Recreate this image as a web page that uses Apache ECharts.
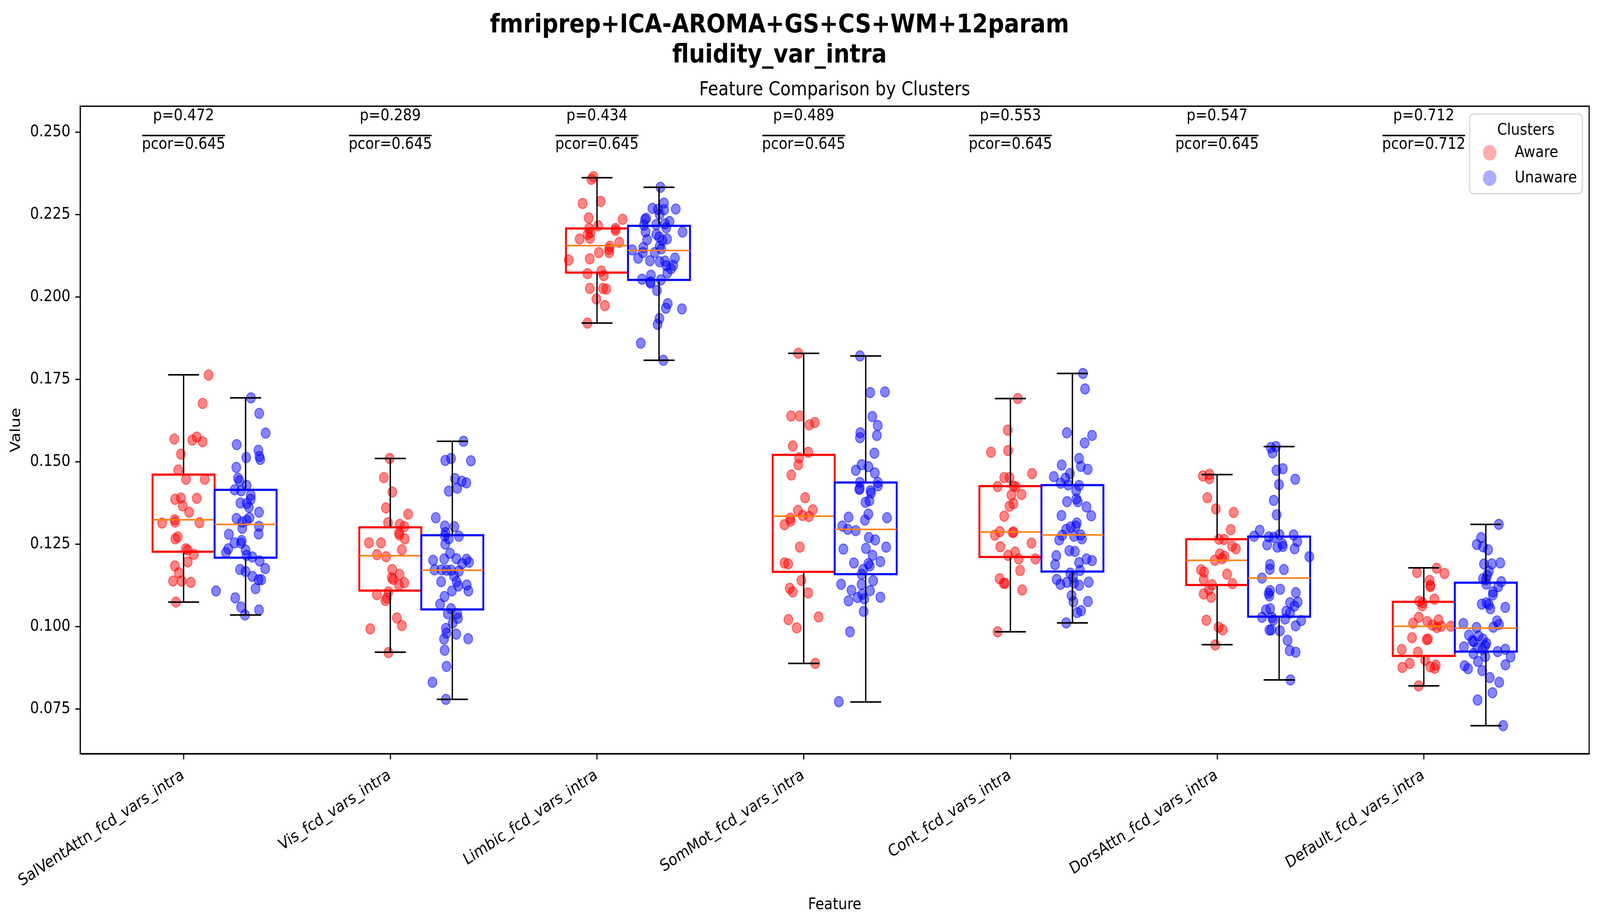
<!DOCTYPE html>
<html>
<head>
<meta charset="utf-8">
<script src="https://cdn.jsdelivr.net/npm/echarts@6/dist/echarts.min.js"></script>
<style>
  html, body { margin: 0; padding: 0; background: #fff; overflow: hidden; }
  #main { width: 4727px; height: 2366px; transform-origin: 0 0; }
</style>
</head>
<body>
<div id="main"></div>
<script>
// categories and annotations
var features = ['SalVentAttn_fcd_vars_intra', 'Vis_fcd_vars_intra', 'Limbic_fcd_vars_intra',
    'SomMot_fcd_vars_intra', 'Cont_fcd_vars_intra', 'DorsAttn_fcd_vars_intra', 'Default_fcd_vars_intra'];
var pValues = ['0.472', '0.289', '0.434', '0.489', '0.553', '0.547', '0.712'];
var pcorValues = ['0.645', '0.645', '0.645', '0.645', '0.645', '0.645', '0.712'];
var yTicks = [0.075, 0.100, 0.125, 0.150, 0.175, 0.200, 0.225, 0.250];

// box stats: [lower whisker, q1, median, q3, upper whisker]
var awareBox = [
    [0.1074, 0.1227, 0.1324, 0.1461, 0.1764],
    [0.0922, 0.1109, 0.1215, 0.1301, 0.1510],
    [0.1921, 0.2074, 0.2156, 0.2208, 0.2362],
    [0.0888, 0.1166, 0.1335, 0.1521, 0.1829],
    [0.0984, 0.1211, 0.1287, 0.1426, 0.1692],
    [0.0945, 0.1126, 0.1201, 0.1265, 0.1461],
    [0.0820, 0.0911, 0.1001, 0.1075, 0.1178]
];
var unawareBox = [
    [0.1035, 0.1209, 0.1310, 0.1415, 0.1694],
    [0.0779, 0.1052, 0.1171, 0.1277, 0.1562],
    [0.1808, 0.2052, 0.2141, 0.2216, 0.2333],
    [0.0771, 0.1159, 0.1295, 0.1437, 0.1821],
    [0.1011, 0.1167, 0.1278, 0.1429, 0.1768],
    [0.0838, 0.1030, 0.1147, 0.1273, 0.1546],
    [0.0699, 0.0924, 0.0995, 0.1133, 0.1310]
];

// subject values, one list per feature
var awareValues = [
    [0.1763,0.1677,0.1569,0.1566,0.1575,0.1561,0.1523,0.1475,0.1447,0.1447,0.1386,0.1390,0.1389,0.1366,0.1347,0.1324,0.1314,0.1317,0.1315,0.1266,0.1272,0.1236,0.1232,0.1219,0.1196,0.1184,0.1163,0.1138,0.1138,0.1134,0.1074],
    [0.1510,0.1452,0.1408,0.1360,0.1341,0.1315,0.1310,0.1303,0.1284,0.1278,0.1266,0.1254,0.1254,0.1233,0.1218,0.1212,0.1173,0.1158,0.1148,0.1143,0.1133,0.1126,0.1105,0.1097,0.1087,0.1079,0.1026,0.1003,0.0993,0.0921],
    [0.2365,0.2357,0.2284,0.2290,0.2240,0.2236,0.2216,0.2208,0.2208,0.2202,0.2196,0.2190,0.2178,0.2176,0.2166,0.2154,0.2145,0.2135,0.2135,0.2112,0.2116,0.2079,0.2071,0.2065,0.2026,0.2026,0.2024,0.1994,0.1974,0.1921],
    [0.1829,0.1639,0.1639,0.1612,0.1619,0.1548,0.1529,0.1512,0.1491,0.1460,0.1391,0.1352,0.1354,0.1337,0.1334,0.1329,0.1320,0.1309,0.1241,0.1193,0.1190,0.1140,0.1116,0.1105,0.1102,0.1021,0.1029,0.0996,0.0888],
    [0.1692,0.1596,0.1529,0.1534,0.1464,0.1452,0.1452,0.1425,0.1426,0.1424,0.1399,0.1401,0.1373,0.1365,0.1335,0.1288,0.1277,0.1285,0.1287,0.1253,0.1242,0.1226,0.1216,0.1205,0.1205,0.1170,0.1145,0.1131,0.1131,0.1111,0.0984],
    [0.1457,0.1462,0.1449,0.1391,0.1357,0.1346,0.1294,0.1265,0.1264,0.1244,0.1236,0.1220,0.1213,0.1201,0.1206,0.1172,0.1165,0.1159,0.1143,0.1127,0.1130,0.1112,0.1099,0.1089,0.1019,0.0998,0.0990,0.0944],
    [0.1177,0.1164,0.1161,0.1140,0.1125,0.1121,0.1083,0.1077,0.1072,0.1063,0.1028,0.1015,0.1010,0.1020,0.1004,0.0997,0.1001,0.1001,0.0966,0.0960,0.0962,0.0930,0.0922,0.0898,0.0888,0.0876,0.0878,0.0883,0.0873,0.0820]
];
// horizontal jitter of each point, in category units
var awareJitter = [
    [0.121,0.092,-0.045,0.042,0.064,0.092,-0.013,-0.026,0.012,0.102,-0.041,-0.013,0.064,-0.004,0.027,-0.043,-0.104,-0.041,0.077,-0.040,-0.028,0.011,0.020,0.050,0.020,-0.042,-0.023,-0.051,-0.009,0.035,-0.037],
    [-0.003,-0.031,0.010,-0.021,0.086,-0.011,0.046,0.068,0.042,0.044,0.070,-0.103,-0.045,0.056,-0.064,-0.020,0.009,0.045,0.007,0.014,0.068,0.042,-0.009,-0.065,-0.017,-0.024,0.032,0.056,-0.097,-0.009],
    [-0.017,-0.027,-0.070,0.018,-0.040,0.124,0.006,-0.038,0.090,0.090,-0.031,-0.045,-0.034,-0.084,0.108,0.062,0.058,0.059,0.009,-0.137,-0.035,0.021,-0.046,0.033,-0.035,0.029,0.045,-0.003,0.038,-0.046],
    [-0.026,-0.061,-0.019,0.027,0.054,-0.053,0.022,-0.022,-0.026,-0.060,0.007,-0.028,0.044,-0.005,0.025,-0.065,-0.063,-0.093,-0.019,-0.093,-0.075,-0.011,-0.068,-0.053,0.022,-0.074,0.072,-0.034,0.056],
    [0.036,-0.013,-0.094,-0.011,0.105,-0.030,-0.004,-0.062,0.015,0.026,0.005,0.054,0.015,-0.004,-0.030,-0.051,-0.075,0.011,0.015,0.102,-0.049,0.023,-0.011,0.040,0.121,0.047,-0.052,-0.032,-0.026,0.057,-0.062],
    [-0.069,-0.037,-0.037,-0.047,-0.006,0.080,0.066,0.009,0.034,0.072,0.091,0.013,0.036,-0.011,0.024,-0.078,-0.063,0.048,-0.065,-0.025,0.074,-0.039,-0.065,-0.029,-0.052,0.007,0.027,-0.009],
    [0.062,-0.033,0.100,0.028,0.032,0.031,0.051,-0.022,-0.006,-0.008,-0.024,0.017,-0.052,0.071,0.042,0.063,0.085,0.131,-0.057,0.014,0.020,-0.107,-0.029,0.006,-0.068,-0.104,0.031,0.058,0.052,-0.025]
];
var unawareValues = [
    [0.1694,0.1647,0.1587,0.1552,0.1535,0.1516,0.1507,0.1513,0.1483,0.1450,0.1442,0.1428,0.1415,0.1412,0.1399,0.1386,0.1375,0.1373,0.1362,0.1347,0.1328,0.1330,0.1317,0.1322,0.1304,0.1298,0.1281,0.1280,0.1254,0.1261,0.1253,0.1236,0.1224,0.1232,0.1216,0.1211,0.1199,0.1176,0.1173,0.1167,0.1152,0.1142,0.1142,0.1115,0.1108,0.1087,0.1059,0.1050,0.1035],
    [0.1562,0.1504,0.1510,0.1503,0.1449,0.1441,0.1436,0.1420,0.1411,0.1330,0.1305,0.1303,0.1285,0.1275,0.1266,0.1274,0.1250,0.1222,0.1201,0.1205,0.1206,0.1204,0.1195,0.1191,0.1172,0.1172,0.1171,0.1171,0.1168,0.1154,0.1136,0.1136,0.1123,0.1126,0.1108,0.1108,0.1091,0.1068,0.1054,0.1039,0.1039,0.1025,0.1011,0.0994,0.0980,0.0977,0.0963,0.0962,0.0928,0.0879,0.0831,0.0779],
    [0.2333,0.2285,0.2269,0.2266,0.2265,0.2267,0.2251,0.2239,0.2235,0.2229,0.2218,0.2220,0.2222,0.2210,0.2197,0.2198,0.2190,0.2182,0.2176,0.2174,0.2172,0.2150,0.2154,0.2146,0.2143,0.2135,0.2135,0.2118,0.2110,0.2107,0.2109,0.2118,0.2095,0.2096,0.2086,0.2073,0.2066,0.2054,0.2046,0.2042,0.2052,0.2020,0.1980,0.1966,0.1964,0.1935,0.1917,0.1860,0.1808],
    [0.1821,0.1710,0.1712,0.1637,0.1610,0.1588,0.1573,0.1580,0.1526,0.1491,0.1485,0.1474,0.1466,0.1437,0.1437,0.1427,0.1419,0.1416,0.1412,0.1405,0.1382,0.1377,0.1341,0.1332,0.1330,0.1323,0.1305,0.1295,0.1291,0.1270,0.1263,0.1235,0.1237,0.1241,0.1216,0.1193,0.1197,0.1191,0.1184,0.1173,0.1159,0.1128,0.1128,0.1139,0.1110,0.1109,0.1098,0.1088,0.1084,0.1078,0.1089,0.1046,0.0984,0.0772],
    [0.1768,0.1721,0.1588,0.1580,0.1557,0.1510,0.1486,0.1490,0.1477,0.1455,0.1464,0.1450,0.1435,0.1430,0.1428,0.1412,0.1387,0.1379,0.1379,0.1363,0.1337,0.1336,0.1314,0.1302,0.1295,0.1277,0.1305,0.1278,0.1274,0.1263,0.1266,0.1230,0.1228,0.1215,0.1205,0.1194,0.1200,0.1188,0.1170,0.1162,0.1149,0.1143,0.1128,0.1134,0.1132,0.1125,0.1135,0.1094,0.1075,0.1076,0.1048,0.1042,0.1011],
    [0.1543,0.1546,0.1527,0.1474,0.1479,0.1447,0.1431,0.1383,0.1339,0.1292,0.1274,0.1272,0.1271,0.1279,0.1278,0.1248,0.1241,0.1251,0.1243,0.1258,0.1236,0.1212,0.1188,0.1174,0.1173,0.1147,0.1109,0.1113,0.1101,0.1093,0.1103,0.1072,0.1074,0.1062,0.1050,0.1054,0.1046,0.1041,0.1028,0.1027,0.1020,0.1023,0.1018,0.1002,0.0989,0.0990,0.0987,0.0958,0.0927,0.0922,0.0838],
    [0.1310,0.1270,0.1249,0.1242,0.1233,0.1190,0.1190,0.1193,0.1168,0.1155,0.1145,0.1142,0.1136,0.1129,0.1121,0.1105,0.1096,0.1068,0.1072,0.1067,0.1054,0.1058,0.1009,0.1017,0.1006,0.0998,0.0997,0.0974,0.0971,0.0957,0.0962,0.0949,0.0954,0.0938,0.0935,0.0942,0.0931,0.0918,0.0924,0.0931,0.0908,0.0909,0.0894,0.0881,0.0872,0.0884,0.0866,0.0845,0.0831,0.0799,0.0777,0.0699]
];
var unawareJitter = [
    [0.026,0.066,0.097,-0.043,0.062,0.067,0.071,0.003,-0.045,-0.037,-0.030,0.005,-0.053,-0.022,0.025,0.025,-0.025,0.005,0.016,0.065,-0.044,0.019,-0.016,0.005,0.065,-0.016,0.063,-0.081,-0.054,-0.019,-0.022,-0.084,-0.095,0.000,0.005,0.033,0.068,0.095,-0.027,0.000,0.033,0.063,0.076,0.048,-0.143,-0.050,-0.022,0.065,-0.003],
    [0.054,-0.034,-0.006,0.090,0.013,0.046,0.068,0.024,-0.017,-0.080,-0.036,0.010,-0.033,-0.036,-0.017,0.032,-0.034,-0.011,-0.093,-0.039,0.020,0.069,0.081,0.048,-0.086,-0.052,-0.028,-0.006,0.032,0.008,-0.054,0.021,0.029,0.070,0.078,-0.002,-0.038,-0.059,-0.006,-0.022,0.024,0.027,0.002,-0.031,-0.028,0.019,0.077,-0.040,-0.037,-0.028,-0.096,-0.031],
    [0.007,0.024,-0.032,-0.005,0.025,0.081,0.003,-0.062,-0.068,0.051,-0.073,-0.013,0.029,0.035,0.114,-0.065,-0.013,0.001,0.039,-0.058,0.017,-0.076,0.003,0.011,-0.130,-0.078,-0.021,-0.101,-0.044,0.003,0.029,0.077,0.036,0.069,0.058,0.040,-0.039,-0.082,-0.041,-0.041,0.009,-0.010,0.042,0.033,0.111,0.002,-0.007,-0.088,0.021],
    [-0.028,0.022,0.093,0.032,0.058,-0.026,-0.028,0.054,0.042,-0.020,0.013,-0.048,0.044,-0.028,0.059,0.059,-0.029,-0.031,0.023,0.026,0.018,-0.001,0.013,-0.083,0.103,-0.004,-0.113,-0.087,-0.048,0.015,0.046,-0.108,0.001,0.099,0.033,-0.057,0.071,0.013,0.020,-0.012,-0.020,-0.119,-0.020,0.036,-0.069,0.021,-0.017,-0.039,-0.007,-0.083,0.071,-0.010,-0.076,-0.130],
    [0.051,0.061,-0.027,0.095,0.059,0.032,0.041,-0.052,0.074,-0.090,-0.012,-0.034,-0.057,-0.020,0.032,0.018,0.019,0.026,-0.026,0.068,-0.053,0.091,0.021,-0.008,-0.030,-0.049,0.016,0.040,0.008,-0.064,0.046,-0.015,0.012,-0.078,0.068,0.032,0.095,-0.084,0.037,-0.011,0.003,-0.076,-0.058,-0.027,0.008,0.033,0.079,-0.004,0.005,0.075,0.042,0.023,-0.030],
    [-0.040,-0.015,-0.032,-0.013,0.018,0.078,-0.001,-0.026,-0.012,-0.094,-0.121,-0.050,-0.026,0.002,0.070,-0.058,-0.009,0.015,0.018,0.088,0.075,0.146,-0.044,-0.045,0.023,-0.083,-0.044,0.005,-0.051,-0.047,0.081,0.053,0.090,0.074,-0.064,-0.043,0.034,0.053,-0.083,-0.034,-0.028,0.029,0.107,0.080,-0.047,-0.038,0.004,0.041,0.051,0.080,0.055],
    [0.063,-0.023,-0.044,-0.014,0.011,-0.009,0.029,0.070,0.015,0.007,-0.014,0.000,0.075,0.002,0.060,0.035,0.034,-0.020,0.003,0.014,0.022,0.094,-0.109,0.054,0.064,0.036,-0.045,-0.082,-0.036,-0.065,-0.014,0.003,-0.058,-0.106,-0.041,-0.003,-0.016,-0.060,0.057,0.094,0.120,-0.003,-0.038,-0.103,-0.086,0.095,-0.017,0.019,0.065,0.032,-0.040,0.084]
];

// the page is laid out at 4727 x 2366; if the window is another size, fit it
var el = document.getElementById('main');
var sx = (window.innerWidth || 4727) / 4727;
var sy = (window.innerHeight || 2366) / 2366;
if (Math.abs(sx - 1) > 0.001 || Math.abs(sy - 1) > 0.001) {
    el.style.transform = 'scale(' + sx + ',' + sy + ')';
}

var FONT = '"DejaVu Sans", "Liberation Sans", sans-serif';
var FS = 41.7;            // 10pt at 300dpi
var offsetUnaware = 0.3;  // second box sits 0.3 to the right
var yBottom = 0.0614, yTop = 0.2579;

function points(values, jitter, shift) {
    var out = [];
    for (var i = 0; i < values.length; i++) {
        for (var n = 0; n < values[i].length; n++) {
            out.push([i + shift + jitter[i][n], values[i][n]]);
        }
    }
    return out;
}
function boxes(stats, shift) {
    return stats.map(function (s, i) { return [i + shift].concat(s); });
}

function boxRenderer(color) {
    return function (params, api) {
        var x = api.value(0);
        var half = api.size([0.15, 0])[0];
        var cap = api.size([0.075, 0])[0];
        var pMin = api.coord([x, api.value(1)]);
        var pQ1 = api.coord([x, api.value(2)]);
        var pMed = api.coord([x, api.value(3)]);
        var pQ3 = api.coord([x, api.value(4)]);
        var pMax = api.coord([x, api.value(5)]);
        var cx = pMed[0];
        var black = { stroke: '#000', lineWidth: 4 };
        return {
            type: 'group',
            children: [
                { type: 'line', shape: { x1: cx, y1: pQ1[1], x2: cx, y2: pMin[1] }, style: black },
                { type: 'line', shape: { x1: cx, y1: pQ3[1], x2: cx, y2: pMax[1] }, style: black },
                { type: 'line', shape: { x1: cx - cap, y1: pMin[1], x2: cx + cap, y2: pMin[1] }, style: black },
                { type: 'line', shape: { x1: cx - cap, y1: pMax[1], x2: cx + cap, y2: pMax[1] }, style: black },
                { type: 'rect', shape: { x: cx - half, y: pQ3[1], width: 2 * half, height: pQ1[1] - pQ3[1] },
                  style: { fill: 'none', stroke: color, lineWidth: 5.5 } },
                { type: 'line', shape: { x1: cx - half, y1: pMed[1], x2: cx + half, y2: pMed[1] },
                  style: { stroke: '#ff7f0e', lineWidth: 4 } }
            ]
        };
    };
}

function annotRenderer(params, api) {
    var i = api.value(0);
    var c = api.coord([i, api.value(1)]);
    var half = api.size([0.2, 0])[0];
    var font = FS + 'px ' + FONT;
    return {
        type: 'group',
        children: [
            { type: 'text', x: c[0], y: c[1] - 50,
              style: { text: 'p=' + pValues[i], font: font, fill: '#000', align: 'center', verticalAlign: 'middle', textAlign: 'center', textVerticalAlign: 'middle' } },
            { type: 'line', shape: { x1: c[0] - half, y1: c[1], x2: c[0] + half, y2: c[1] },
              style: { stroke: '#000', lineWidth: 4 } },
            { type: 'text', x: c[0], y: c[1] + 23,
              style: { text: 'pcor=' + pcorValues[i], font: font, fill: '#000', align: 'center', verticalAlign: 'middle', textAlign: 'center', textVerticalAlign: 'middle' } }
        ]
    };
}

// category names under the ticks, turned 30 degrees, right end at the tick
function tickLabelRenderer(params, api) {
    var i = api.value(0);
    var c = api.coord([i, api.value(1)]);
    return {
        type: 'text',
        x: c[0] - 12, y: c[1] + 34,
        rotation: Math.PI / 6,
        style: { text: features[i], font: FS + 'px ' + FONT, fill: '#000',
                 align: 'right', verticalAlign: 'top', textAlign: 'right', textVerticalAlign: 'top' }
    };
}

var myChart = echarts.init(el, null, { renderer: 'canvas', width: 4727, height: 2366 });

var axisFont = { fontFamily: FONT, fontSize: FS, color: '#000' };
var option = {
    animation: false,
    backgroundColor: '#fff',
    grid: {
        left: 237, right: 32, top: 272, bottom: 436,
        show: true, borderColor: '#000', borderWidth: 3.3,
        containLabel: false, outerBoundsMode: 'none'
    },
    legend: {
        orient: 'vertical',
        left: 4342, top: 292,
        padding: [78, 16, 19, 39],
        itemWidth: 40, itemHeight: 40, itemGap: 23,
        backgroundColor: '#fff',
        borderColor: '#d4d4d4', borderWidth: 3, borderRadius: 12,
        selectedMode: false,
        textStyle: { fontFamily: FONT, fontSize: FS, color: '#000', padding: [0, 0, 0, 49] },
        data: [
            { name: 'Aware', icon: 'circle', itemStyle: { color: '#ff9999', borderWidth: 0 } },
            { name: 'Unaware', icon: 'circle', itemStyle: { color: '#9999ff', borderWidth: 0 } }
        ]
    },
    graphic: [
        { type: 'text', x: 2303, y: 104, z: 100,
          style: { text: 'fmriprep+ICA-AROMA+GS+CS+WM+12param\nfluidity_var_intra',
                   font: 'bold 66.7px ' + FONT, lineHeight: 77, fill: '#000',
                   align: 'center', verticalAlign: 'middle', textAlign: 'center', textVerticalAlign: 'middle' } },
        { type: 'text', x: 2466, y: 231, z: 100,
          style: { text: 'Feature Comparison by Clusters', font: '50px ' + FONT, fill: '#000',
                   align: 'center', verticalAlign: 'middle', textAlign: 'center', textVerticalAlign: 'middle' } },
        { type: 'text', x: 4508, y: 334, z: 100,
          style: { text: 'Clusters', font: FS + 'px ' + FONT, fill: '#000',
                   align: 'center', verticalAlign: 'middle', textAlign: 'center', textVerticalAlign: 'middle' } }
    ],
    xAxis: {
        type: 'value',
        min: -0.5, max: 6.8,
        name: 'Feature', nameLocation: 'middle', nameGap: 366,
        nameTextStyle: axisFont,
        splitLine: { show: false },
        axisLine: { show: true, onZero: false, lineStyle: { color: '#000', width: 3.3 } },
        axisTick: { show: true, inside: false, length: 14.6, lineStyle: { color: '#000', width: 3.3 },
                    customValues: [0, 1, 2, 3, 4, 5, 6] },
        axisLabel: { show: false }
    },
    yAxis: {
        type: 'value',
        min: yBottom, max: yTop,
        name: 'Value', nameLocation: 'middle', nameGap: 168,
        nameTextStyle: axisFont,
        splitLine: { show: false },
        axisLine: { show: true, onZero: false, lineStyle: { color: '#000', width: 3.3 } },
        axisTick: { show: true, inside: false, length: 14.6, lineStyle: { color: '#000', width: 3.3 },
                    customValues: yTicks },
        axisLabel: {
            customValues: yTicks, margin: 29, hideOverlap: false,
            fontFamily: FONT, fontSize: FS, color: '#000',
            formatter: function (v) { return v.toFixed(3); }
        }
    },
    series: [
        {
            name: 'Aware', type: 'scatter', z: 2,
            symbol: 'circle', symbolSize: 26,
            itemStyle: { color: 'rgba(255,0,0,0.6)', borderColor: 'rgba(255,0,0,0.6)', borderWidth: 3 },
            data: points(awareValues, awareJitter, 0)
        },
        {
            name: 'Unaware', type: 'scatter', z: 2,
            symbol: 'circle', symbolSize: 26,
            itemStyle: { color: 'rgba(0,0,255,0.6)', borderColor: 'rgba(0,0,255,0.6)', borderWidth: 3 },
            data: points(unawareValues, unawareJitter, offsetUnaware)
        },
        {
            type: 'custom', z: 3, silent: true,
            renderItem: boxRenderer('#ff0000'),
            encode: { x: 0, y: [1, 2, 3, 4, 5] },
            data: boxes(awareBox, 0)
        },
        {
            type: 'custom', z: 3, silent: true,
            renderItem: boxRenderer('#0000ff'),
            encode: { x: 0, y: [1, 2, 3, 4, 5] },
            data: boxes(unawareBox, offsetUnaware)
        },
        {
            type: 'custom', z: 4, silent: true, clip: false,
            renderItem: annotRenderer,
            encode: { x: 0, y: 1 },
            data: features.map(function (f, i) { return [i, 0.249]; })
        },
        {
            type: 'custom', z: 4, silent: true, clip: false,
            renderItem: tickLabelRenderer,
            encode: { x: 0, y: 1 },
            data: features.map(function (f, i) { return [i, yBottom]; })
        }
    ]
};
myChart.setOption(option);
</script>
</body>
</html>
